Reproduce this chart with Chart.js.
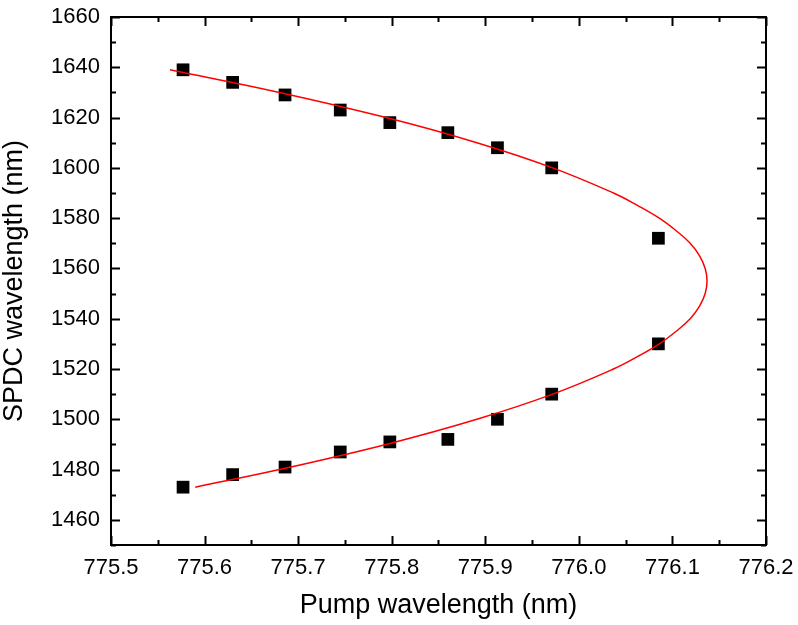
<!DOCTYPE html>
<html>
<head>
<meta charset="utf-8">
<script src="https://cdn.jsdelivr.net/npm/chart.js@4"></script>
<style>
  html, body { margin: 0; padding: 0; background: #fff; }
  #wrap { width: 798px; height: 625px; }
</style>
</head>
<body>
<div id="wrap"><canvas id="myChart" width="798" height="625"></canvas></div>
<script>
// measured points
const pumpWl   = [775.577, 775.630, 775.686, 775.745, 775.798, 775.860, 775.913, 775.971, 776.085];
const spdcHigh = [1639, 1634, 1629, 1623, 1618, 1614, 1608, 1600, 1572];
const spdcLow  = [1473, 1478, 1481, 1487, 1491, 1492, 1500, 1510, 1530];

// fitted curve
const fitPump = [775.563, 775.680, 775.794, 775.891, 775.972, 776.037, 776.063, 776.086, 776.104, 776.119, 776.129,
                 776.135, 776.137, 776.135, 776.129, 776.119, 776.104, 776.086, 776.063, 776.037, 775.972, 775.891,
                 775.794, 775.680, 775.590];
const fitSpdc = [1639, 1630, 1620, 1610, 1600, 1590, 1585, 1580, 1575, 1570, 1565,
                 1560, 1555, 1550, 1545, 1540, 1535, 1530, 1525, 1520, 1510, 1500,
                 1490, 1480, 1473];

const xTicks = [775.5, 775.6, 775.7, 775.8, 775.9, 776.0, 776.1, 776.2];

const FONT = "'Liberation Sans', Arial, sans-serif";

function toXY(xs, ys) {
    let out = [];
    for (let i = 0; i < xs.length; i++) out.push({x: xs[i], y: ys[i]});
    return out;
}

// box frame with inward ticks, like the original plot
const frame = {
    id: 'frame',
    afterDatasetsDraw(chart) {
        const ctx = chart.ctx;
        const a = chart.chartArea;
        const xs = chart.scales.x, ys = chart.scales.y;
        ctx.save();
        ctx.strokeStyle = '#000';
        ctx.lineWidth = 2;
        ctx.strokeRect(a.left, a.top, a.right - a.left, a.bottom - a.top);
        ctx.beginPath();
        for (let v = 775.5; v <= 776.2001; v += 0.05) {
            const major = Math.abs(Math.round(v * 10) - v * 10) < 0.01;
            const len = major ? 9 : 5;
            const px = Math.round(xs.getPixelForValue(v)) + 0.5;
            ctx.moveTo(px, a.bottom); ctx.lineTo(px, a.bottom - len);
            ctx.moveTo(px, a.top); ctx.lineTo(px, a.top + len);
        }
        for (let v = 1450; v <= 1660; v += 10) {
            const major = v % 20 === 0;
            const len = major ? 9 : 5;
            const py = Math.round(ys.getPixelForValue(v)) + 0.5;
            ctx.moveTo(a.left, py); ctx.lineTo(a.left + len, py);
            ctx.moveTo(a.right, py); ctx.lineTo(a.right - len, py);
        }
        ctx.stroke();
        ctx.restore();
    }
};

const data = {
    datasets: [{
        label: 'fit',
        data: toXY(fitPump, fitSpdc),
        showLine: true,
        borderColor: 'rgb(255, 0, 0)',
        borderWidth: 1.5,
        pointRadius: 0,
        tension: 0.4,
        fill: false
    }, {
        label: 'signal',
        data: toXY(pumpWl, spdcHigh),
        pointStyle: 'rect',
        pointRadius: 9,
        backgroundColor: '#000',
        borderColor: '#000',
        borderWidth: 0
    }, {
        label: 'idler',
        data: toXY(pumpWl, spdcLow),
        pointStyle: 'rect',
        pointRadius: 9,
        backgroundColor: '#000',
        borderColor: '#000',
        borderWidth: 0
    }]
};

const config = {
    type: 'scatter',
    data: data,
    options: {
        responsive: false,
        animation: false,
        layout: { padding: { top: 17, right: 32, left: 0, bottom: 0 } },
        plugins: { legend: { display: false }, tooltip: { enabled: false } },
        scales: {
            x: {
                type: 'linear',
                min: 775.5,
                max: 776.2,
                afterBuildTicks: (s) => { s.ticks = xTicks.map(v => ({value: v})); },
                afterFit: (s) => { s.height = 80; s.paddingLeft = 0; s.paddingRight = 0; },
                grid: { display: false, drawTicks: false },
                border: { display: false },
                ticks: {
                    padding: 10,
                    color: '#000',
                    font: { family: FONT, size: 22 },
                    callback: (v) => Number(v).toFixed(1)
                },
                title: {
                    display: true,
                    text: 'Pump wavelength (nm)',
                    color: '#000',
                    font: { family: FONT, size: 27, lineHeight: 1 },
                    padding: { top: 0, bottom: 6 }
                }
            },
            y: {
                type: 'linear',
                min: 1450,
                max: 1660,
                afterBuildTicks: (s) => {
                    let t = [];
                    for (let v = 1460; v <= 1660; v += 20) t.push({value: v});
                    s.ticks = t;
                },
                afterFit: (s) => { s.width = 111; s.paddingTop = 0; s.paddingBottom = 0; },
                grid: { display: false, drawTicks: false },
                border: { display: false },
                ticks: {
                    padding: 11,
                    color: '#000',
                    font: { family: FONT, size: 22 },
                    callback: (v) => String(v)
                },
                title: {
                    display: true,
                    text: 'SPDC wavelength (nm)',
                    color: '#000',
                    font: { family: FONT, size: 27, lineHeight: 1 },
                    padding: { top: 1, bottom: 0 }
                }
            }
        }
    },
    plugins: [frame]
};

const myChart = new Chart(document.getElementById('myChart'), config);
</script>
</body>
</html>
